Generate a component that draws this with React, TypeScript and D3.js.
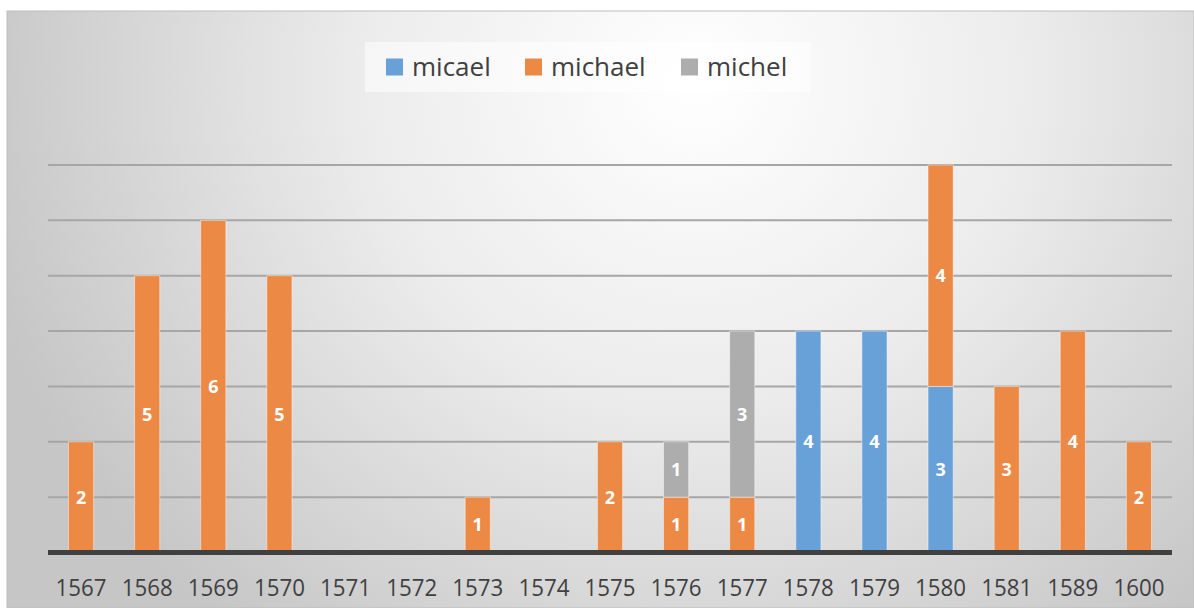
import React from "react";
import * as d3 from "d3";

const categories = ["1567","1568","1569","1570","1571","1572","1573","1574","1575","1576","1577","1578","1579","1580","1581","1589","1600"];
const seriesNames = ["micael", "michael", "michel"];
const micael = [0,0,0,0,0,0,0,0,0,0,0,4,4,3,0,0,0];
const michael = [2,5,6,5,0,0,1,0,2,1,1,0,0,4,3,4,2];
const michel = [0,0,0,0,0,0,0,0,0,1,3,0,0,0,0,0,0];
const yTicks = [1,2,3,4,5,6,7];
const colors = ["#68a1d8", "#eb8945", "#adadad"];

const W = 1194, H = 608;

export default function App() {
  const x = d3.scaleBand().domain(categories).range([48, 1172]).paddingInner(0.62).paddingOuter(0.31);
  const y = d3.scaleLinear().domain([0, 7]).range([552.5, 165]);
  const rows = categories.map((c, i) => ({ cat: c, micael: micael[i], michael: michael[i], michel: michel[i] }));
  const stacked = d3.stack<any>().keys(seriesNames)(rows);
  const legendX = [386, 525, 681];
  return (
    <svg width={W} height={H} style={{ position: "absolute", left: 0, top: 0 }}>
      <defs>
        <radialGradient id="bg" cx="0.58" cy="0.12" r="0.62" gradientUnits="objectBoundingBox" gradientTransform="translate(0.58 0.12) scale(1 1.9) translate(-0.58 -0.12)">
          <stop offset="0" stopColor="#ffffff" />
          <stop offset="0.45" stopColor="#ececec" />
          <stop offset="1" stopColor="#c6c6c6" />
        </radialGradient>
      </defs>
      <rect x={0} y={0} width={W} height={H} fill="#ffffff" />
      <rect x={7} y={11} width={W - 7} height={H - 11} fill="url(#bg)" stroke="#bdbdbd" strokeWidth={1} />
      <rect x={365} y={42} width={446} height={50} fill="#ffffff" opacity={0.55} />
      {yTicks.map(t => (
        <line key={t} x1={48} x2={1172} y1={y(t)} y2={y(t)} stroke="#a6a6a6" strokeWidth={2} />
      ))}
      {stacked.map((s, si) => (
        <g key={s.key}>
          {s.map((d, i) => d[1] - d[0] > 0 ? (
            <rect key={i} x={x(categories[i])!} width={x.bandwidth()} y={y(d[1])} height={y(d[0]) - y(d[1])}
              fill={colors[si]} stroke="#ffffff" strokeOpacity={0.45} strokeWidth={1} />
          ) : null)}
        </g>
      ))}
      {stacked.map((s, si) => (
        <g key={"l" + s.key}>
          {s.map((d, i) => d[1] - d[0] > 0 ? (
            <text key={i} x={x(categories[i])! + x.bandwidth() / 2} y={(y(d[0]) + y(d[1])) / 2} dy="0.36em"
              textAnchor="middle" fill="#ffffff" fontFamily="Open Sans" fontWeight={700} fontSize={18}>
              {d[1] - d[0]}
            </text>
          ) : null)}
        </g>
      ))}
      <line x1={48} x2={1172} y1={552.5} y2={552.5} stroke="#404040" strokeWidth={5} />
      {categories.map(c => (
        <text key={c} x={x(c)! + x.bandwidth() / 2} y={596} textAnchor="middle" fill="#404040"
          fontFamily="Open Sans" fontSize={24} textLength={51} lengthAdjust="spacingAndGlyphs">{c}</text>
      ))}
      {seriesNames.map((n, i) => (
        <g key={n}>
          <rect x={legendX[i]} y={58.5} width={17} height={17} fill={colors[i]} />
          <text x={legendX[i] + 26} y={76} fill="#404040" fontFamily="Open Sans" fontSize={26}>{n}</text>
        </g>
      ))}
    </svg>
  );
}
